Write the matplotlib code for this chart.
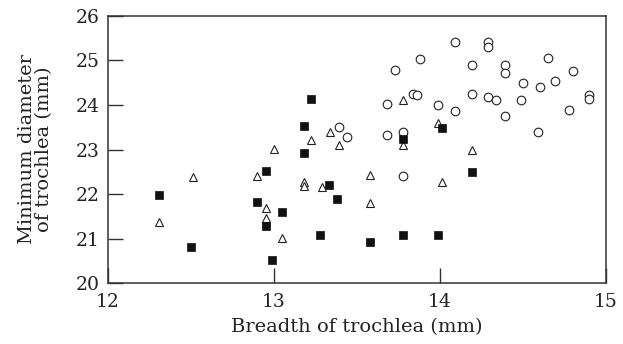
import matplotlib
matplotlib.use("Agg")
import matplotlib.pyplot as plt

# filled squares
sq_x = [13.22, 13.18, 13.18, 13.78, 14.01, 12.95, 13.33, 13.38, 12.31, 12.90,
        12.95, 13.05, 13.28, 12.50, 12.99, 13.58, 14.19, 13.78, 13.99]
sq_y = [24.13, 23.53, 22.93, 23.23, 23.49, 22.52, 22.21, 21.89, 21.97, 21.83,
        21.28, 21.60, 21.09, 20.80, 20.52, 20.92, 22.49, 21.09, 21.09]

# open triangles
tri_x = [13.78, 13.99, 13.78, 14.19, 13.34, 13.39, 13.22, 13.00, 12.51, 12.90,
         13.18, 13.18, 13.29, 12.95, 12.95, 12.31, 13.05, 13.58, 13.58, 14.01]
tri_y = [24.11, 23.59, 23.09, 23.00, 23.39, 23.10, 23.21, 23.02, 22.38, 22.40,
         22.27, 22.18, 22.15, 21.69, 21.47, 21.37, 21.02, 22.42, 21.80, 22.27]

# open circles
cir_x = [14.09, 14.29, 14.29, 13.88, 14.65, 14.19, 14.39, 14.39, 14.80, 14.50,
         14.69, 14.60, 13.84, 13.86, 14.19, 14.29, 14.34, 14.49, 14.90, 14.90,
         13.99, 14.09, 14.39, 14.78, 13.78, 14.59, 13.73, 13.68, 13.68, 13.39,
         13.44, 13.78]
cir_y = [25.42, 25.42, 25.31, 25.03, 25.05, 24.90, 24.91, 24.73, 24.77, 24.50,
         24.55, 24.40, 24.25, 24.22, 24.24, 24.19, 24.12, 24.11, 24.22, 24.13,
         24.01, 23.87, 23.75, 23.88, 23.39, 23.39, 24.79, 24.02, 23.33, 23.51,
         23.27, 22.41]

plt.rcParams['font.family'] = ['DejaVu Serif']

fig = plt.figure(figsize=(6.23, 3.44), dpi=100)
ax = fig.add_axes([0.1734, 0.1773, 0.7993, 0.7762])

ax.plot(cir_x, cir_y, 'o', ms=6.2, mfc='white', mec='#222222', mew=0.8, ls='none')
ax.plot(tri_x, tri_y, '^', ms=6.2, mfc='white', mec='#222222', mew=0.8, ls='none')
ax.plot(sq_x, sq_y, 's', ms=5.6, mfc='#111111', mec='#111111', mew=0.5, ls='none')

ax.set_xlim(12, 15)
ax.set_ylim(20, 26)
ax.set_xticks([12, 13, 14, 15])
ax.set_yticks([20, 21, 22, 23, 24, 25, 26])

for s in ax.spines.values():
    s.set_linewidth(1.1)
    s.set_color('#333333')

ax.tick_params(direction='in', length=11, width=1, labelsize=13.5,
               top=False, right=False, colors='#333333', labelcolor='#222222')
ax.tick_params(axis='y', pad=6)
ax.tick_params(axis='x', pad=7)

ax.set_xlabel('Breadth of trochlea (mm)', fontsize=14, color='#222222')
ax.set_ylabel('Minimum diameter\nof trochlea (mm)', fontsize=14, color='#222222',
              linespacing=0.95)
ax.xaxis.set_label_coords(0.5, -0.13)
ax.yaxis.set_label_coords(-0.11, 0.5)

fig.savefig('out.png', dpi=100)
